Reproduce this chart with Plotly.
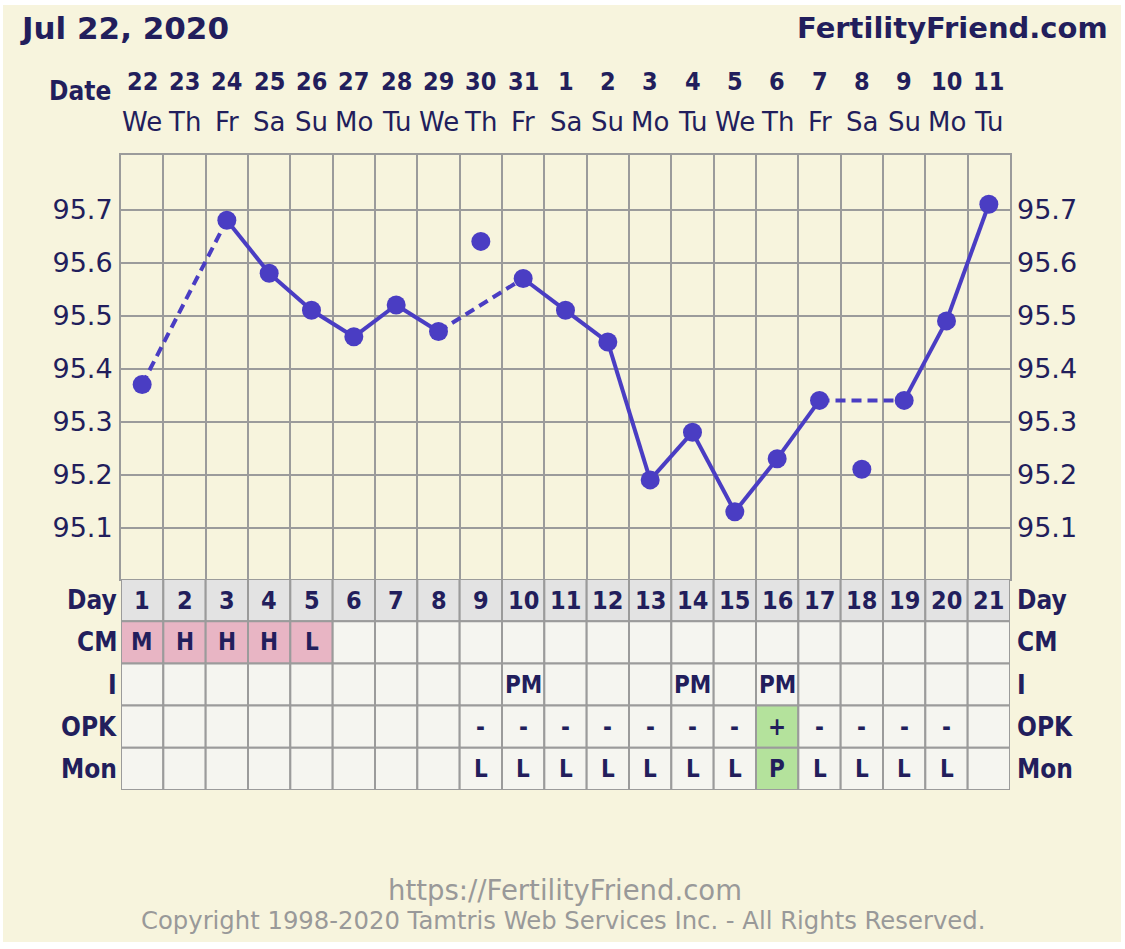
import plotly.graph_objects as go

# ---------------- data ----------------
days = list(range(1, 22))
date_nums = ["22", "23", "24", "25", "26", "27", "28", "29", "30", "31",
             "1", "2", "3", "4", "5", "6", "7", "8", "9", "10", "11"]
weekdays = ["We", "Th", "Fr", "Sa", "Su", "Mo", "Tu", "We", "Th", "Fr",
            "Sa", "Su", "Mo", "Tu", "We", "Th", "Fr", "Sa", "Su", "Mo", "Tu"]
temps = [95.37, None, 95.68, 95.58, 95.51, 95.46, 95.52, 95.47, 95.64, 95.57,
         95.51, 95.45, 95.19, 95.28, 95.13, 95.23, 95.34, 95.21, 95.34, 95.49, 95.71]
discarded_days = [9, 18]
temp_ticks = [95.1, 95.2, 95.3, 95.4, 95.5, 95.6, 95.7]

cm_row = ["M", "H", "H", "H", "L"] + [""] * 16
i_row = ["", "", "", "", "", "", "", "", "", "PM", "", "", "", "PM", "", "PM", "", "", "", "", ""]
opk_row = [""] * 8 + ["-", "-", "-", "-", "-", "-", "-", "+", "-", "-", "-", "-", ""]
mon_row = [""] * 8 + ["L", "L", "L", "L", "L", "L", "L", "P", "L", "L", "L", "L", ""]
row_names = ["Day", "CM", "I", "OPK", "Mon"]

# ---------------- style ----------------
W, H = 1125, 949
L, R, T, B = 121, 1010, 155, 790
TEMP_BOTTOM = 579
CREAM = "#F7F4DD"
NAVY = "#221E5C"
LINE = "#4A3DC3"
GRID = "#9B9B9B"
CELL = "#F5F5F0"
DAYBG = "#E3E3E3"
PINK = "#E8B5C4"
GREEN = "#B4E29C"
BOLD = "DejaVu Sans Condensed, DejaVu Sans"
REG = "DejaVu Sans"


def py(ypix):
    return (B - ypix) / (B - T)


def px(xpix):
    return (xpix - L) / (R - L)


fig = go.Figure()

# connected / dashed segments
valid = [(d, t) for d, t in zip(days, temps) if t is not None and d not in discarded_days]
sx, sy, dx, dy = [], [], [], []
for (d0, t0), (d1, t1) in zip(valid[:-1], valid[1:]):
    if d1 - d0 == 1:
        sx += [d0, d1, None]
        sy += [t0, t1, None]
    else:
        dx += [d0, d1, None]
        dy += [t0, t1, None]

fig.add_trace(go.Scatter(x=sx, y=sy, mode="lines", line=dict(color=LINE, width=4),
                         hoverinfo="skip", showlegend=False))
fig.add_trace(go.Scatter(x=dx, y=dy, mode="lines", line=dict(color=LINE, width=4, dash="10px,6px"),
                         hoverinfo="skip", showlegend=False))
mx = [d for d, t in zip(days, temps) if t is not None]
my = [t for t in temps if t is not None]
fig.add_trace(go.Scatter(x=mx, y=my, mode="markers", marker=dict(color=LINE, size=19),
                         showlegend=False))
# right-side axis trace (invisible)
fig.add_trace(go.Scatter(x=[None], y=[None], yaxis="y3", showlegend=False))

shapes = []
# background panel
shapes.append(dict(type="rect", xref="paper", yref="paper", x0=px(3), x1=px(1121),
                   y0=py(942), y1=py(5), fillcolor=CREAM, line=dict(width=0), layer="below"))

# table cells
rows = [[str(d) for d in days], cm_row, i_row, opk_row, mon_row]
annotations = []


def ann(**kw):
    kw.setdefault("showarrow", False)
    kw.setdefault("xanchor", "center")
    kw.setdefault("yanchor", "middle")
    annotations.append(kw)


for r, vals in enumerate(rows):
    yc = 4.5 - r
    for c, v in enumerate(vals):
        d = c + 1
        if r == 0:
            fill = DAYBG
        elif r == 1 and v:
            fill = PINK
        elif (r == 3 and v == "+") or (r == 4 and v == "P"):
            fill = GREEN
        else:
            fill = CELL
        shapes.append(dict(type="rect", xref="x", yref="y2", x0=d - 0.5, x1=d + 0.5,
                           y0=yc - 0.5, y1=yc + 0.5, fillcolor=fill,
                           line=dict(color=GRID, width=2), layer="above"))
        if v:
            ann(x=d, y=yc, xref="x", yref="y2", text="<b>%s</b>" % v,
                font=dict(family=BOLD, size=25 if r == 0 else 24, color=NAVY))
    # row labels
    ann(x=0, y=yc, xref="paper", yref="y2", xanchor="right", xshift=-2,
        text="<b>%s</b>" % row_names[r], font=dict(family=BOLD, size=26, color=NAVY))
    ann(x=1, y=yc, xref="paper", yref="y2", xanchor="left", xshift=5,
        text="<b>%s</b>" % row_names[r], font=dict(family=BOLD, size=26, color=NAVY))

# date header
for d, n, w in zip(days, date_nums, weekdays):
    ann(x=d, y=py(81), xref="x", yref="paper", text="<b>%s</b>" % n,
        font=dict(family=BOLD, size=25, color=NAVY))
    ann(x=d, y=py(122), xref="x", yref="paper", text=w,
        font=dict(family=REG, size=26, color=NAVY))
ann(x=0, y=py(91), xref="paper", yref="paper", xanchor="right", xshift=-8,
    text="<b>Date</b>", font=dict(family=BOLD, size=26, color=NAVY))
ann(x=px(18), y=py(28), xref="paper", yref="paper", xanchor="left",
    text="<b>Jul 22, 2020</b>", font=dict(family=REG, size=31, color=NAVY))
ann(x=px(1110), y=py(28), xref="paper", yref="paper", xanchor="right",
    text="<b>FertilityFriend.com</b>", font=dict(family=REG, size=29, color=NAVY))
ann(x=px(565), y=py(890), xref="paper", yref="paper",
    text="https://FertilityFriend.com", font=dict(family=REG, size=27.5, color="#999999"))
ann(x=px(563), y=py(921), xref="paper", yref="paper",
    text="Copyright 1998-2020 Tamtris Web Services Inc. - All Rights Reserved.",
    font=dict(family=REG, size=24.3, color="#999999"))

temp_dom0 = (B - TEMP_BOTTOM) / (B - T)
yr = [95.003, 95.803]
fig.update_layout(
    width=W, height=H,
    margin=dict(l=L, r=W - R, t=T, b=H - B, pad=0),
    paper_bgcolor="white", plot_bgcolor=CREAM,
    xaxis=dict(range=[0.5, 21.5], tickvals=[i + 0.5 for i in range(1, 21)],
               showticklabels=False, ticks="", showgrid=True, gridcolor=GRID, gridwidth=2,
               showline=True, mirror=True, linecolor=GRID, linewidth=2, zeroline=False,
               anchor="y", fixedrange=True),
    yaxis=dict(domain=[temp_dom0, 1], range=yr, tickvals=temp_ticks,
               ticktext=["%.1f" % v for v in temp_ticks], ticks="", ticklabelstandoff=1,
               showgrid=True, gridcolor=GRID, gridwidth=2, zeroline=False,
               showline=True, mirror=True, linecolor=GRID, linewidth=2,
               tickfont=dict(family=REG, size=27, color=NAVY)),
    yaxis3=dict(overlaying="y", side="right", range=yr, tickvals=temp_ticks,
                ticktext=["%.1f" % v for v in temp_ticks], ticks="", ticklabelstandoff=6,
                showgrid=False, zeroline=False, tickfont=dict(family=REG, size=27, color=NAVY)),
    yaxis2=dict(domain=[0, temp_dom0], range=[0, 5], anchor="x", showgrid=False,
                showticklabels=False, ticks="", zeroline=False),
    shapes=shapes, annotations=annotations,
)
fig.write_html("out.html", config={"displayModeBar": False},
               post_script="document.body.style.margin='0px';")
